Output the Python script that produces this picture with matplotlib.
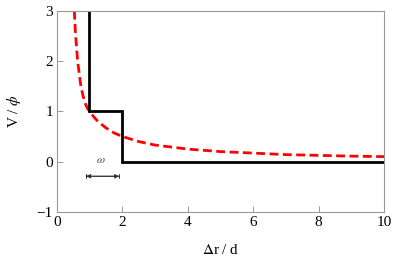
import matplotlib
matplotlib.use("Agg")
import matplotlib.pyplot as plt

plt.rcParams['font.family'] = ['Liberation Serif', 'DejaVu Serif']
plt.rcParams['mathtext.fontset'] = 'stix'

# red dashed curve
curve_x = [0.53, 0.56, 0.60, 0.63, 0.68, 0.73, 0.80, 0.87, 0.93, 1.0, 1.1, 1.25,
           1.5, 1.75, 2.0, 2.5, 3.0, 3.5, 4.0, 5.0, 6.0, 7.0, 8.0, 9.0, 10.0]
curve_y = [3.0, 2.6, 2.25, 2.0, 1.75, 1.5, 1.3, 1.15, 1.06, 1.0, 0.91, 0.8,
           0.67, 0.57, 0.5, 0.4, 0.33, 0.29, 0.25, 0.2, 0.17, 0.14, 0.125, 0.11, 0.1]

# black step potential
step_x = [0.97, 0.97, 2.0, 2.0, 10.0]
step_y = [3.0, 1.0, 1.0, 0.0, 0.0]

# width marker
omega_x = [0.89, 1.9]
omega_y = -0.29

fig = plt.figure(figsize=(3.95, 2.68), dpi=100)
ax = fig.add_axes([0.1443, 0.209, 0.828, 0.751])

ax.plot(curve_x, curve_y, color="red", lw=2.0, dashes=(3.2, 1.6))
ax.plot(step_x, step_y, color="black", lw=2.0, solid_joinstyle="miter")

ax.annotate("", xy=(omega_x[0], omega_y), xytext=(omega_x[1], omega_y),
            arrowprops=dict(arrowstyle="|-|,widthA=0.15,widthB=0.15", color="#333333", lw=0.7,
                            shrinkA=0, shrinkB=0))
ax.annotate("", xy=(omega_x[0], omega_y), xytext=(omega_x[1], omega_y),
            arrowprops=dict(arrowstyle="<|-|>,head_length=0.25,head_width=0.12", color="#333333",
                            lw=0.7, shrinkA=0, shrinkB=0))
ax.text(sum(omega_x) / 2 - 0.05, -0.08, r"$\omega$", fontsize=8.5, ha="center", va="bottom",
        color="#444444")

ax.set_xlim(0, 10)
ax.set_ylim(-1, 3)
ax.set_xticks([0, 2, 4, 6, 8, 10])
ax.set_yticks([-1, 0, 1, 2, 3])
ax.set_yticklabels(["\u22121", "0", "1", "2", "3"])
ax.tick_params(direction="in", length=4, width=0.6, color="#888888", labelsize=11, pad=3)
for s in ax.spines.values():
    s.set_color("#999999")
    s.set_linewidth(0.8)

ax.set_xlabel(r"$\Delta$r / d", fontsize=11, labelpad=10)
ax.set_ylabel(r"V / $\phi$", fontsize=11, labelpad=10)

plt.savefig("out.png", dpi=100)
